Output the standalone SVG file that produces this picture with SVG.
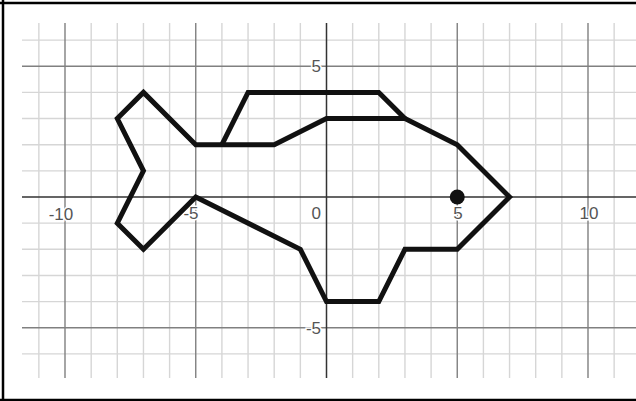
<svg xmlns="http://www.w3.org/2000/svg" width="636" height="401" viewBox="0 0 636 401">
  <style>
    .minor { stroke: #d6d6d6; stroke-width: 1.4; fill: none; }
    .major { stroke: #808080; stroke-width: 1.4; fill: none; }
    .axis { stroke: #333; stroke-width: 1.5; fill: none; }
    .shape { stroke: #111; stroke-width: 5; fill: none; stroke-linejoin: miter; stroke-miterlimit: 4; }
    .lbl { font-family: "Liberation Sans", Arial, sans-serif; font-size: 17px; fill: #555; stroke: #fff; stroke-width: 3; paint-order: stroke; }
  </style>
  <rect x="0" y="0" width="636" height="401" fill="#fff"/>
  <g id="grid">
    <g class="minor">
      <path d="M38.85 23V378M91.2 23V378M117.3 23V378M143.45 23V378M169.6 23V378M221.9 23V378M248.05 23V378M274.2 23V378M300.35 23V378M352.65 23V378M378.8 23V378M404.95 23V378M431.1 23V378M483.4 23V378M509.55 23V378M535.7 23V378M561.85 23V378M614.15 23V378"/>
      <path d="M22 40.1H636M22 92.4H636M22 118.55H636M22 144.7H636M22 170.85H636M22 223.15H636M22 249.3H636M22 275.45H636M22 301.6H636M22 353.9H636"/>
    </g>
    <g class="major">
      <path d="M65 23V378M195.75 23V378M457.25 23V378M588 23V378"/>
      <path d="M22 66.25H636M22 327.75H636"/>
    </g>
    <g class="axis">
      <path d="M326.5 23V378M22 197H636"/>
    </g>
  </g>
  <g id="labels">
    <text class="lbl" x="321" y="72" text-anchor="end">5</text>
    <text class="lbl" x="321" y="334" text-anchor="end">-5</text>
    <text class="lbl" x="61" y="220" text-anchor="middle">-10</text>
    <text class="lbl" x="191" y="219" text-anchor="middle">-5</text>
    <text class="lbl" x="321" y="219" text-anchor="end">0</text>
    <text class="lbl" x="458" y="219" text-anchor="middle">5</text>
    <text class="lbl" x="589" y="219" text-anchor="middle">10</text>
  </g>
  <g id="fish-body">
    <polygon class="shape" points="195.75,197 300.35,249.3 326.5,301.6 378.8,301.6 404.95,249.3 457.25,249.3 509.55,197 457.25,144.7 404.95,118.55 326.5,118.55 274.2,144.7 195.75,144.7 143.45,92.4 117.3,118.55 143.45,170.85 117.3,223.15 143.45,249.3"/>
  </g>
  <g id="fish-fin">
    <polyline class="shape" points="221.9,144.7 248.05,92.4 378.8,92.4 404.95,118.55"/>
  </g>
  <g id="fish-eye">
    <circle cx="457.25" cy="197" r="7.5" fill="#111"/>
  </g>
  <g id="frame">
    <path d="M3 0V400H0M0 3H636M0 400H636" fill="none" stroke="#000" stroke-width="2.5"/>
  </g>
</svg>
